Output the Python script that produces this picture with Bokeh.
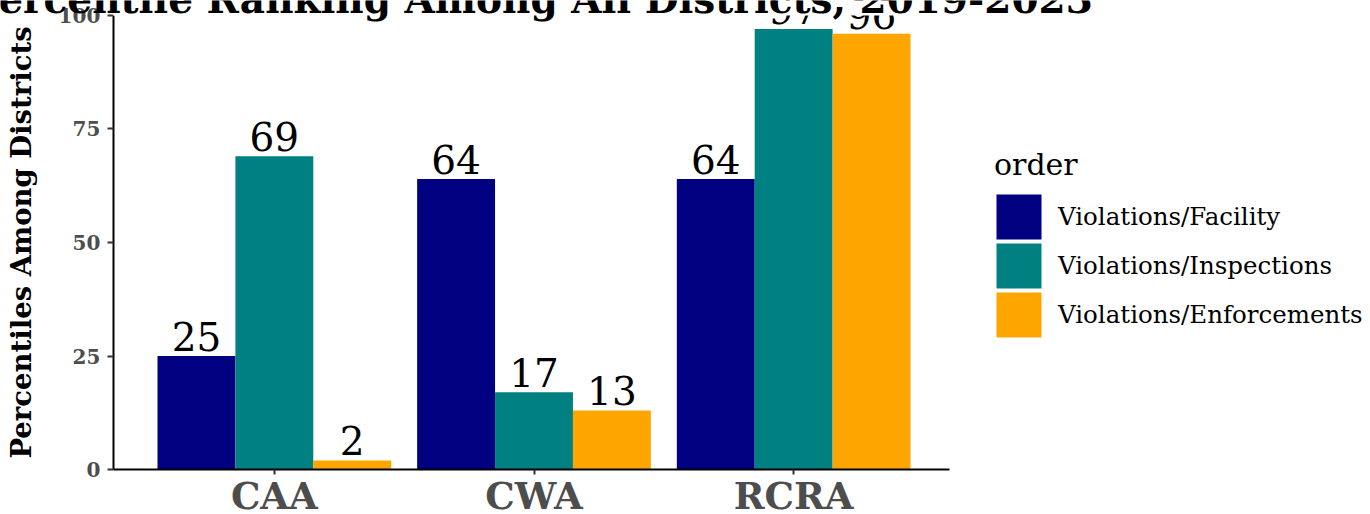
from bokeh.plotting import figure
from bokeh.models import Range1d, FixedTicker, Legend, LegendItem, Label, ColumnDataSource, BoxAnnotation
from bokeh.transform import dodge
from bokeh.core.properties import value
from bokeh.embed import file_html
from bokeh.resources import INLINE

categories = ["CAA", "CWA", "RCRA"]
series = ["Violations/Facility", "Violations/Inspections", "Violations/Enforcements"]
facility = [25, 64, 64]
inspections = [69, 17, 97]
enforcements = [2, 13, 96]
colors = ["#000080", "#008080", "#FFA500"]
y_ticks = [0, 25, 50, 75, 100]
title_text = "Percentile Ranking Among All Districts, 2019-2023"
y_label = "Percentiles Among Districts"
legend_title = "order"

FONT = "DejaVu Serif"
pos = list(range(1, len(categories) + 1))

# panel limits (ggplot-like), and the whole canvas as frame
X_LO, X_HI = 0.38, 3.6
Y_LO, Y_HI = 0, 100

p = figure(width=1370, height=514, output_backend="svg", toolbar_location=None,
           x_range=Range1d(-0.0546, 5.2215), y_range=Range1d(-9.91, 103.3),
           min_border_left=0, min_border_right=0, min_border_top=0,
           min_border_bottom=0)
p.xgrid.visible = False
p.ygrid.visible = False
p.outline_line_color = None
p.background_fill_color = "white"
p.border_fill_color = "white"

offsets = [-0.3, 0.0, 0.3]
vals = [facility, inspections, enforcements]
items = []
for name, v, off, c in zip(series, vals, offsets, colors):
    src = ColumnDataSource(dict(x=pos, top=v, label=[str(t) for t in v]))
    p.vbar(x=dodge("x", off, range=p.x_range), top="top", width=0.3,
           source=src, fill_color=c, line_color=None)
    p.text(x=dodge("x", off, range=p.x_range), y="top", text="label", source=src,
           text_font=value(FONT), text_font_size="39px", text_align="center",
           text_baseline="bottom", y_offset=-5, text_color="black")
    # legend key proxy (hidden), drawn with a stroke so the key square is larger
    key = p.vbar(x=dodge("x", off, range=p.x_range), top="top", width=0.3,
                 source=src, fill_color=c, line_color=c, line_width=5.8,
                 line_join="miter", visible=False)
    items.append(LegendItem(label=name, renderers=[key]))

# clip the panel at its upper limit, as the reference does
p.add_layout(BoxAnnotation(bottom=Y_HI, left=X_LO, right=X_HI, fill_color="white",
                           fill_alpha=1, line_color=None))

yax = p.yaxis[0]
yax.fixed_location = X_LO
yax.bounds = (Y_LO, Y_HI)
yax.ticker = FixedTicker(ticks=y_ticks)
yax.axis_label = y_label
yax.axis_label_text_font = FONT
yax.axis_label_text_font_size = "27.5px"
yax.axis_label_text_font_style = "bold"
yax.axis_label_text_color = "black"
yax.axis_label_standoff = 19
yax.major_label_text_font = FONT
yax.major_label_text_font_size = "20px"
yax.major_label_text_font_style = "bold"
yax.major_label_text_color = "#4D4D4D"
yax.major_label_standoff = 7
yax.major_tick_out = 6
yax.major_tick_in = 0
yax.major_tick_line_color = "#333333"
yax.major_tick_line_width = 2
yax.minor_tick_line_color = None
yax.axis_line_color = "black"
yax.axis_line_width = 2

xax = p.xaxis[0]
xax.fixed_location = Y_LO
xax.bounds = (X_LO, X_HI)
xax.ticker = FixedTicker(ticks=pos)
xax.major_label_overrides = {i: c for i, c in zip(pos, categories)}
xax.major_label_text_font = FONT
xax.major_label_text_font_size = "37px"
xax.major_label_text_font_style = "bold"
xax.major_label_text_color = "#4D4D4D"
xax.major_label_standoff = -1
xax.major_tick_out = 5
xax.major_tick_in = 0
xax.major_tick_line_color = "#333333"
xax.major_tick_line_width = 2
xax.minor_tick_line_color = None
xax.axis_line_color = "black"
xax.axis_line_width = 2

p.add_layout(Label(x=(X_LO + X_HI) / 2, y=493, x_units="data", y_units="screen",
                   text=title_text, text_font=FONT, text_font_size="39px",
                   text_font_style="bold", text_color="black", text_align="center",
                   text_baseline="bottom"))

legend = Legend(items=items, location=(994, 175), title=legend_title,
                title_text_font=FONT, title_text_font_size="30px",
                title_text_font_style="normal", title_text_color="black",
                title_standoff=10,
                label_text_font=FONT, label_text_font_size="24.5px",
                label_text_color="black", label_standoff=15,
                glyph_width=49, glyph_height=49, spacing=0,
                padding=0, margin=0, border_line_color=None,
                background_fill_alpha=0, inactive_fill_alpha=0)
p.add_layout(legend)

open("out.html", "w").write(file_html(p, INLINE))
